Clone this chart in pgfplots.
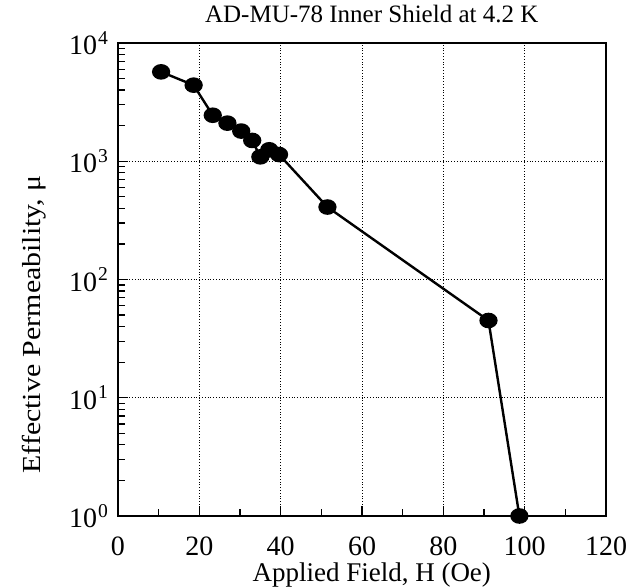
\documentclass[border=0pt]{standalone}
\usepackage{pgfplots}
\pgfplotsset{compat=1.18}
\usepackage{fontspec}
\setmainfont{Liberation Serif}

\begin{document}
\begin{tikzpicture}
\begin{axis}[
    at={(0,0)}, anchor=south west,
    scale only axis,
    width=244pt, height=236.5pt,
    ymode=log,
    xmin=0, xmax=120,
    ymin=1, ymax=10000,
    xtick={0,20,40,60,80,100,120},
    minor x tick num=1,
    ytick={1,10,100,1000,10000},
    yticklabels={10\kern0.5pt\textsuperscript{0},10\kern0.5pt\textsuperscript{1},10\kern0.5pt\textsuperscript{2},10\kern0.5pt\textsuperscript{3},10\kern0.5pt\textsuperscript{4}},
    /pgf/number format/assume math mode=true,
    tick align=inside,
    xtick pos=left, ytick pos=left,
    major tick length=5pt, minor tick length=3.5pt,
    every tick/.style={black, line width=0.6pt},
    grid=major,
    major grid style={black, densely dotted, line width=0.4pt},
    axis line style={line width=1pt},
    tick label style={font=\fontsize{14}{15}\selectfont},
    xticklabel style={yshift=-7pt},
    yticklabel style={xshift=-1pt},
    title={AD-MU-78 Inner Shield at 4.2 K},
    title style={font=\fontsize{12.5}{14}\selectfont,
        at={(axis description cs:0.52,1.035)}, anchor=center},
    xlabel={Applied Field, H (Oe)},
    ylabel={Effective Permeability, μ},
    xlabel style={font=\fontsize{13.5}{15}\selectfont,
        at={(axis description cs:0.52,-0.125)}, anchor=center},
    ylabel style={font=\fontsize{13}{15}\selectfont,
        at={(axis description cs:-0.172,0.405)}, anchor=center, xscale=1.15},
]
\addplot[black, line width=1.2pt, mark=*, mark size=3.3pt,
    mark options={xscale=1.2, fill=black}]
    coordinates {
    (10.6,5700)(18.6,4400)(23.3,2450)(26.9,2100)(30.3,1800)(33.0,1500)
    (35.0,1090)(37.2,1250)(39.6,1140)(51.5,410)(91.1,45)(98.7,1)
    };
\end{axis}
\pgfresetboundingbox
\path (-59pt,-35.5pt) rectangle (254pt,258pt);
\end{tikzpicture}
\end{document}
